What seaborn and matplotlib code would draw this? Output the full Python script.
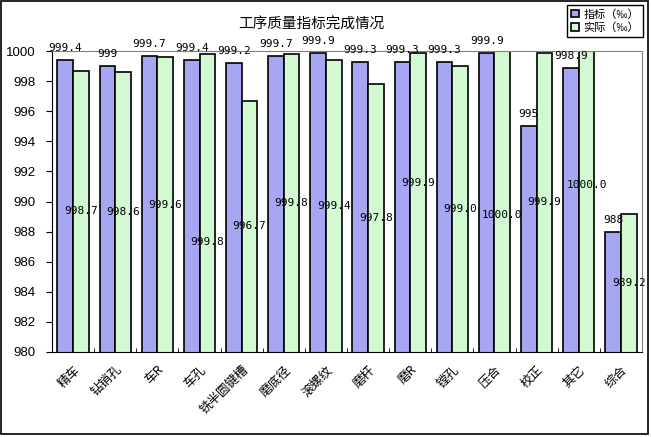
import numpy as np
import matplotlib
matplotlib.use('Agg')
import matplotlib.pyplot as plt
from matplotlib.patches import Rectangle
import seaborn as sns
import pandas as pd

categories = ['精车', '钻销孔', '车R', '车孔', '铣半圆键槽', '磨底径', '滚螺纹',
              '磨杆', '磨R', '镗孔', '压合', '校正', '其它', '综合']
target = [999.4, 999, 999.7, 999.4, 999.2, 999.7, 999.9,
          999.3, 999.3, 999.3, 999.9, 995, 998.9, 988]
actual = [998.7, 998.6, 999.6, 999.8, 996.7, 999.8, 999.4,
          997.8, 999.9, 999.0, 1000.0, 999.9, 1000.0, 989.2]
series = ['指标（‰）', '实际（‰）']
# small nudges of the "actual" labels as placed in the original
label_nudge = [0, 0, 0, -2.6, 0, 0, 0, 0, 1.3, 0, -0.9, 0, 1.1, 0]

plt.rcParams['font.family'] = ['Noto Sans CJK SC', 'DejaVu Sans']

df = pd.DataFrame({
    'cat': categories * 2,
    'val': target + actual,
    'series': [series[0]] * len(categories) + [series[1]] * len(categories),
})

fig = plt.figure(figsize=(6.51, 4.37), dpi=100)
ax = fig.add_axes([52 / 651, 1 - 352 / 437, 590 / 651, 301 / 437])

sns.barplot(data=df, x='cat', y='val', hue='series',
            palette=['#9999FF', '#CCFFCC'], width=0.74,
            edgecolor='black', linewidth=1.2, ax=ax)

ax.set_ylim(980, 1000)
ax.set_yticks(np.arange(980, 1001, 2))
ax.set_xlim(-0.5, len(categories) - 0.5)
ax.set_xlabel('')
ax.set_ylabel('')

# value labels
bw = 0.74 / 2
for i, v in enumerate(target):
    ax.annotate(f'{v:g}', (i - bw / 2, v), xytext=(0, 8.5), textcoords='offset points',
                ha='center', va='center', fontsize=8, family='DejaVu Sans Mono')
for i, v in enumerate(actual):
    ax.text(i + bw / 2, (980 + v) / 2 + label_nudge[i], f'{v:.1f}',
            ha='center', va='center', fontsize=8, family='DejaVu Sans Mono')

# axes styling
for s in ['top', 'right']:
    ax.spines[s].set_color('#808080')
for s in ['left', 'bottom']:
    ax.spines[s].set_color('black')
ax.tick_params(axis='y', direction='out', length=4, pad=8, labelsize=9.5)
for lbl in ax.get_yticklabels():
    lbl.set_family('Liberation Sans')
ax.set_xticks(np.arange(len(categories)))
ax.set_xticklabels(categories, rotation=45, ha='right', va='top',
                   rotation_mode='anchor', fontsize=9)
ax.tick_params(axis='x', which='major', length=0, pad=8)
ax.set_xticks(np.arange(len(categories) + 1) - 0.5, minor=True)
ax.tick_params(axis='x', which='minor', direction='in', length=3)

fig.text(311 / 651, 1 - 25 / 437, '工序质量指标完成情况', ha='center', va='center', fontsize=10.5)

sns.move_legend(ax, 'upper right', bbox_to_anchor=(643 / 651, 1 - 5 / 437),
                bbox_transform=fig.transFigure, title=None, fontsize=8,
                frameon=True, fancybox=False, edgecolor='black', framealpha=1,
                handlelength=0.7, handleheight=0.7, handletextpad=0.4,
                borderpad=0.35, labelspacing=0.25, borderaxespad=0)
ax.get_legend().get_frame().set_linewidth(1.0)

fig.patches.append(Rectangle((1 / 651, 3 / 437), 647 / 651, 433 / 437,
                             transform=fig.transFigure, fill=False,
                             edgecolor='black', linewidth=1.2))

fig.savefig('out.png', dpi=100)
